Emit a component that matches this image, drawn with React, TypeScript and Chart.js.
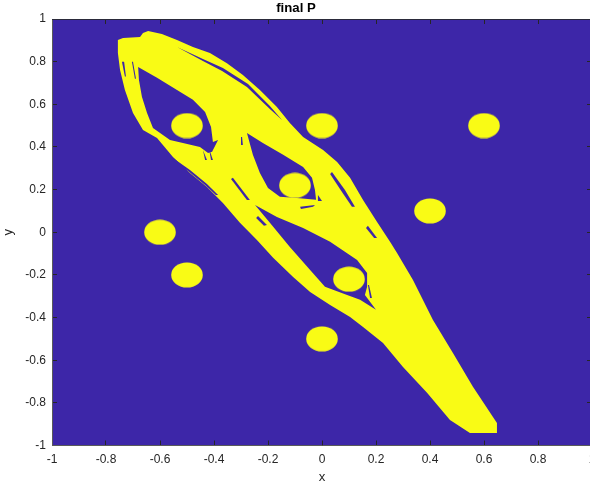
import React, { useEffect, useRef } from "react";
import { Chart, registerables } from "chart.js";

Chart.register(...registerables);

type Pt = [number, number];

const BLUE = "#3d26a8";
const YELLOW = "#f9fb15";
const INK = "#262626";

const axisTicks = [-1, -0.8, -0.6, -0.4, -0.2, 0, 0.2, 0.4, 0.6, 0.8, 1];

const obstacleCentres: Pt[] = [
  [-0.5, 0.5], [0, 0.5], [0.6, 0.5], [-0.1, 0.22], [0.4, 0.1],
  [-0.6, 0], [-0.5, -0.2], [0.1, -0.22], [0, -0.5],
];

const reachedOutline: Pt[] = [
  [-0.756, 0.902], [-0.737, 0.911], [-0.674, 0.916], [-0.663, 0.934], [-0.644, 0.944],
  [-0.593, 0.93], [-0.537, 0.902], [-0.478, 0.869], [-0.415, 0.841], [-0.352, 0.793],
  [-0.293, 0.737], [-0.23, 0.667], [-0.167, 0.587], [-0.119, 0.512], [-0.07, 0.447],
  [0.004, 0.386], [0.056, 0.33], [0.104, 0.255], [0.152, 0.151], [0.204, 0.048],
  [0.252, -0.045], [0.278, -0.097], [0.337, -0.224], [0.411, -0.411], [0.485, -0.566],
  [0.559, -0.725], [0.648, -0.894], [0.648, -0.941], [0.548, -0.941], [0.474, -0.88],
  [0.389, -0.753], [0.3, -0.632], [0.226, -0.519], [0.152, -0.444], [0.104, -0.397],
  [0.03, -0.341], [-0.044, -0.28], [-0.107, -0.21], [-0.181, -0.12], [-0.241, -0.036],
  [-0.304, 0.044], [-0.367, 0.137], [-0.426, 0.212], [-0.489, 0.278], [-0.552, 0.353],
  [-0.611, 0.442], [-0.663, 0.48], [-0.7, 0.559], [-0.73, 0.667], [-0.748, 0.761],
  [-0.756, 0.841],
];

const holeUpperLeft: Pt[] = [
  [-0.681, 0.775], [-0.611, 0.724], [-0.537, 0.667], [-0.478, 0.621], [-0.433, 0.564],
  [-0.411, 0.494], [-0.404, 0.423], [-0.385, 0.433], [-0.407, 0.377], [-0.422, 0.372],
  [-0.452, 0.4], [-0.515, 0.419], [-0.563, 0.433], [-0.626, 0.489], [-0.648, 0.559],
  [-0.667, 0.635], [-0.678, 0.714],
];

const holeCentre: Pt[] = [
  [-0.278, 0.466], [-0.219, 0.419], [-0.144, 0.363], [-0.07, 0.306], [-0.037, 0.255],
  [-0.026, 0.198], [-0.022, 0.152], [-0.093, 0.161], [-0.156, 0.166], [-0.2, 0.208],
  [-0.23, 0.278], [-0.256, 0.363],
];

const holeLower: Pt[] = [
  [-0.248, 0.128], [-0.167, 0.072], [-0.07, 0.02], [0.03, -0.045], [0.13, -0.13],
  [0.167, -0.191], [0.167, -0.256], [0.159, -0.294], [0.2, -0.364], [0.141, -0.317],
  [0.093, -0.294], [0.011, -0.256], [-0.044, -0.177], [-0.119, -0.069], [-0.193, 0.044],
];

const slits: Pt[][] = [
  [[-0.537, 0.869], [-0.441, 0.813], [-0.367, 0.77], [-0.274, 0.695], [-0.193, 0.592], [-0.148, 0.526],
   [-0.193, 0.578], [-0.278, 0.681], [-0.37, 0.756], [-0.441, 0.803]],
  [[0.037, 0.283], [0.085, 0.198], [0.122, 0.119], [0.111, 0.119], [0.074, 0.189], [0.03, 0.273]],
  [[0.17, 0.03], [0.204, -0.027], [0.193, -0.027], [0.163, 0.02]],
  [[-0.237, 0.076], [-0.204, 0.034], [-0.215, 0.03], [-0.244, 0.067]],
  [[-0.296, 0.447], [-0.293, 0.409], [-0.3, 0.409], [-0.3, 0.447]],
  [[-0.015, 0.175], [0, 0.147], [-0.015, 0.147]],
  [[-0.081, 0.119], [-0.026, 0.128], [-0.033, 0.119], [-0.078, 0.109]],
  [[0.174, -0.247], [0.185, -0.308], [0.178, -0.308], [0.17, -0.247]],
  [[-0.552, 0.348], [-0.489, 0.292], [-0.426, 0.226], [-0.385, 0.175], [-0.393, 0.175], [-0.433, 0.222],
   [-0.496, 0.287], [-0.556, 0.339]],
  [[-0.33, 0.255], [-0.267, 0.151], [-0.278, 0.151], [-0.337, 0.25]],
  [[-0.741, 0.8], [-0.73, 0.73], [-0.726, 0.73], [-0.733, 0.8]],
  [[-0.704, 0.8], [-0.693, 0.72], [-0.689, 0.72], [-0.7, 0.8]],
  [[-0.441, 0.386], [-0.426, 0.339], [-0.433, 0.339]],
  [[-0.419, 0.395], [-0.404, 0.339], [-0.411, 0.339]],
];

function shape(points: Pt[], colour: string) {
  return {
    data: points.map(([x, y]) => ({ x, y })),
    showLine: true,
    fill: "shape",
    backgroundColor: colour,
    borderWidth: 0,
    borderColor: colour,
    pointRadius: 0,
  };
}

function ellipseMarker() {
  const c = document.createElement("canvas");
  c.width = 32;
  c.height = 26;
  const g = c.getContext("2d")!;
  g.fillStyle = YELLOW;
  g.beginPath();
  g.ellipse(16, 13, 15.8, 12.6, 0, 0, Math.PI * 2);
  g.fill();
  return c;
}

const plotBackground = {
  id: "plotBackground",
  beforeDraw(chart: any) {
    const { ctx, chartArea: a } = chart;
    ctx.save();
    ctx.fillStyle = BLUE;
    ctx.fillRect(a.left, a.top, a.right - a.left, a.bottom - a.top);
    ctx.restore();
  },
};

function axis(position: string, size: number, label?: string, borderColor = "#5a5a5a") {
  const horizontal = position === "bottom" || position === "top";
  return {
    type: "linear",
    position,
    min: -1,
    max: 1,
    afterBuildTicks(s: any) {
      s.ticks = axisTicks.map((value) => ({ value }));
    },
    afterFit(s: any) {
      if (horizontal) s.height = size;
      else s.width = size;
    },
    grid: { drawOnChartArea: false, drawTicks: true, tickLength: -5, tickColor: INK, tickWidth: 1 },
    border: { display: true, color: borderColor, width: 1 },
    ticks: {
      display: !!label,
      autoSkip: false,
      maxRotation: 0,
      padding: horizontal ? 12 : 11,
      color: INK,
      font: { family: "Liberation Sans", size: 12 },
      callback: (v: number) => String(Number(v.toFixed(1))),
    },
    title: label
      ? {
          display: true,
          text: label,
          color: INK,
          font: { family: "Liberation Sans", size: 13.2 },
          padding: { top: 0, bottom: 1 },
        }
      : { display: false },
  };
}

export default function App() {
  const ref = useRef<HTMLCanvasElement | null>(null);
  useEffect(() => {
    const marker = ellipseMarker();
    const chart = new Chart(ref.current!, {
      type: "scatter",
      data: {
        datasets: [
          {
            data: obstacleCentres.map(([x, y]) => ({ x, y })),
            pointStyle: marker,
            pointRadius: 13,
            showLine: false,
          },
          ...slits.map((s) => shape(s, BLUE)),
          shape(holeLower, BLUE),
          shape(holeCentre, BLUE),
          shape(holeUpperLeft, BLUE),
          shape(reachedOutline, YELLOW),
        ] as any,
      },
      plugins: [plotBackground],
      options: {
        animation: false,
        responsive: false,
        layout: { padding: { right: 52 } },
        plugins: {
          legend: { display: false },
          tooltip: { enabled: false },
          title: {
            display: true,
            text: "final P",
            color: "#000000",
            font: { family: "Liberation Sans", size: 13.2, weight: "bold" },
            padding: { top: 0, bottom: 3.16 },
          },
        },
        scales: {
          x: axis("bottom", 40.5, "x"),
          y: axis("left", 52, "y"),
          x2: axis("top", 0, undefined, "#2a2a3a"),
          y2: axis("right", 0, undefined, "#2a2a3a"),
        },
      } as any,
    });
    return () => chart.destroy();
  }, []);
  return (
    <div style={{ position: "fixed", left: 0, top: 0, width: 590, height: 486, overflow: "hidden", background: "#fff" }}>
      <canvas ref={ref} width={644} height={486} style={{ display: "block" }} />
    </div>
  );
}
